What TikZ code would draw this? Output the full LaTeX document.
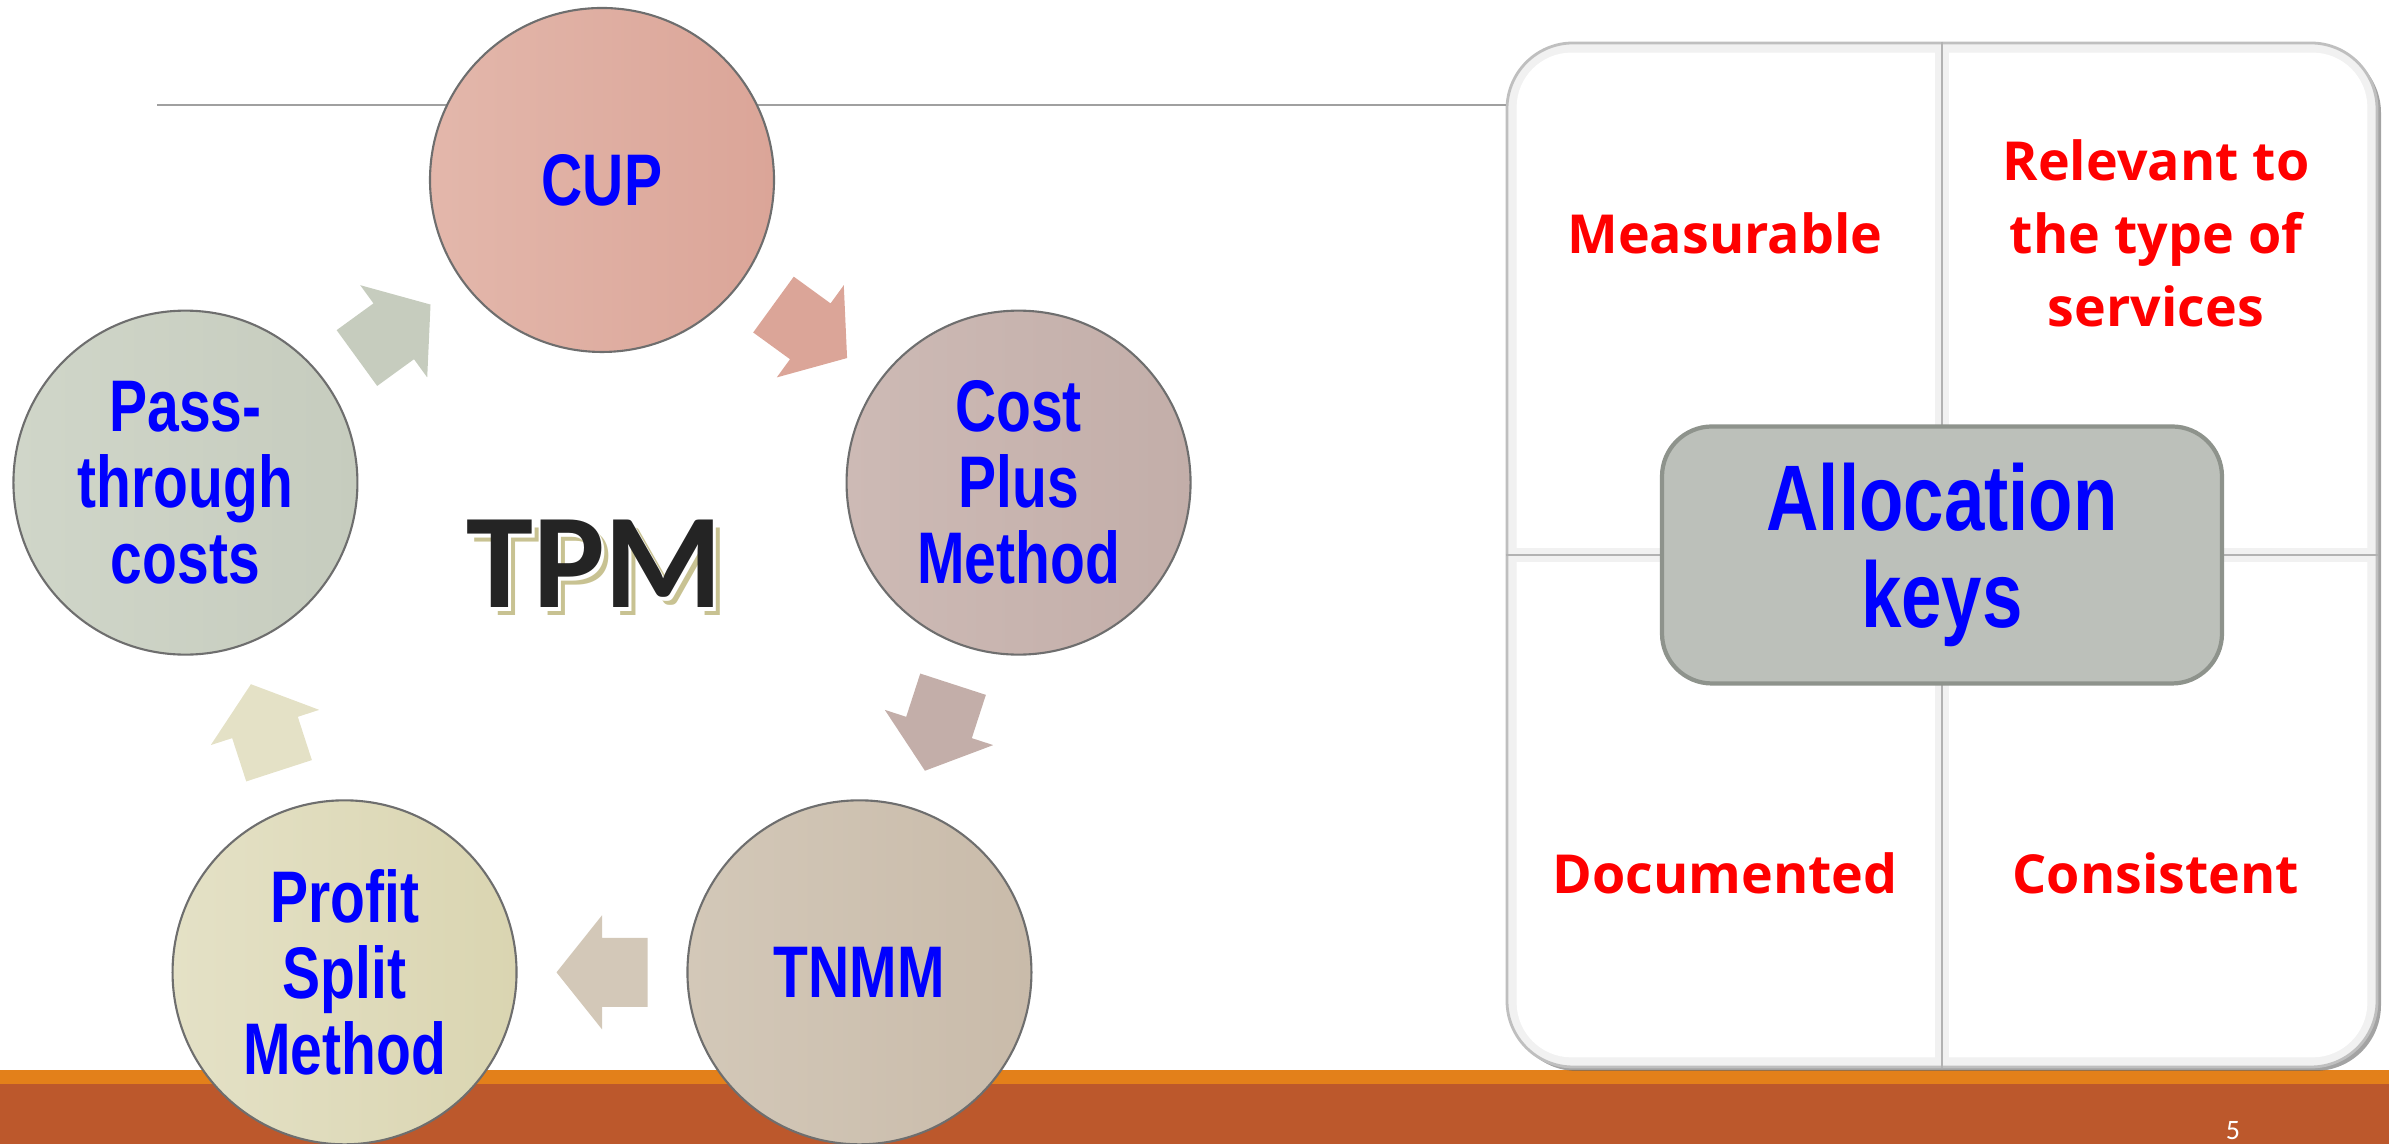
\documentclass[tikz,border=0pt]{standalone}
\usepackage{fontspec}
\usetikzlibrary{calc,positioning,shadows}
\newfontfamily\narrowfont{Liberation Sans}[FakeStretch=0.78]
\newfontfamily\critfont{Open Sans}
\newfontfamily\tpmfont{Carlito}
\definecolor{FooterBrown}{HTML}{BC582C}
\definecolor{FooterOrange}{HTML}{E3801A}
\definecolor{RuleGray}{HTML}{A0A0A0}
\definecolor{CircleRim}{HTML}{6E6E6E}
\definecolor{CupL}{HTML}{E3B7AB}
\definecolor{CupR}{HTML}{DBA598}
\definecolor{CostL}{HTML}{CDBAB5}
\definecolor{CostR}{HTML}{C3AEA9}
\definecolor{TnmmL}{HTML}{D3C8B8}
\definecolor{TnmmR}{HTML}{C9BBAA}
\definecolor{SplitL}{HTML}{E4E1C6}
\definecolor{SplitR}{HTML}{DAD5B1}
\definecolor{PassL}{HTML}{D0D6C9}
\definecolor{PassR}{HTML}{C6CCBE}
\definecolor{KeyGray}{HTML}{BCC0BA}
\definecolor{KeyRim}{HTML}{8E938C}
\definecolor{PanelEdge}{HTML}{F1F1F1}
\definecolor{TpmInk}{HTML}{242424}
\definecolor{TpmShade}{HTML}{C8C292}

\begin{document}
\begin{tikzpicture}[
    method/.style={circle,minimum size=3.44cm,inner sep=0pt,draw=CircleRim,line width=.6pt,
                   align=center,text=blue,font=\narrowfont\bfseries\fontsize{20.8}{21.6}\selectfont},
    crit/.style={align=center,text=red,font=\critfont\bfseries\fontsize{15.3}{20.8}\selectfont},
    matbox/.style={rounded corners=.66cm,minimum width=8.70cm,minimum height=10.24cm,
                   fill=PanelEdge,draw=gray!50,line width=.8pt,
                   drop shadow={shadow xshift=.04cm,shadow yshift=-.04cm,fill=black!60,opacity=.6}},
    keysbox/.style={rounded corners=.5cm,minimum width=5.60cm,minimum height=2.57cm,
                    fill=KeyGray,draw=KeyRim,line width=1.2pt,align=center,text=blue,
                    font=\narrowfont\bfseries\fontsize{26.5}{27.6}\selectfont},
    tpmtext/.style={anchor=base,font=\tpmfont\bfseries\fontsize{38.4}{40}\selectfont},
    pics/turn/.style={code={\fill[#1] (-.455,-.345) -- (0,-.345) -- (0,-.57) -- (.455,0)
                      -- (0,.57) -- (0,.345) -- (-.455,.345) -- cycle;}}]
  \useasboundingbox (0,0) rectangle (23.89,11.44);

  % footer band
  \fill[FooterBrown] (0,0) rectangle (23.89,.60);
  \fill[FooterOrange] (0,.60) rectangle (23.89,.74);
  \node[text=white,font=\tpmfont\fontsize{8}{8}\selectfont] (pagenum) at (22.33,.13) {5};

  % allocation keys matrix
  \node[matbox] (mat) at (19.42,5.89) {};
  \begin{scope}
    \clip[rounded corners=.55cm] ($(mat.south west)+(.11,.11)$) rectangle ($(mat.north east)-(.11,.11)$);
    \fill[white] (mat.north west) rectangle ($(mat.center)+(-.07,.07)$);
    \fill[white] (mat.north east) rectangle ($(mat.center)+(.07,.07)$);
    \fill[white] (mat.south west) rectangle ($(mat.center)+(-.07,-.07)$);
    \fill[white] (mat.south east) rectangle ($(mat.center)+(.07,-.07)$);
  \end{scope}
  \draw[gray!60,line width=.6pt] (mat.north) -- (mat.south);
  \draw[gray!60,line width=.6pt] (mat.west) -- (mat.east);
  \node[crit] (measurable) at ($(mat.center)+(-2.17,3.22)$) {Measurable};
  \node[crit] (relevant) at ($(mat.center)+(2.14,3.22)$) {Relevant to\\the type of\\services};
  \node[crit] (documented) at ($(mat.center)+(-2.17,-3.18)$) {Documented};
  \node[crit] (consistent) at ($(mat.center)+(2.14,-3.18)$) {Consistent};
  \node[keysbox] (keys) at (mat.center) {Allocation\\keys};

  % title rule
  \coordinate (rule) at (1.57,10.39);
  \draw[RuleGray,line width=.6pt] (rule) -- (rule -| mat.west);

  % TPM cycle
  \coordinate (hub) at (6.02,5.26);
  \node[method,left color=CupL,right color=CupR] (cup) at ($(hub)+(90:4.38)$) {CUP};
  \node[method,left color=CostL,right color=CostR] (costplus) at ($(hub)+(18:4.38)$) {Cost\\Plus\\Method};
  \node[method,left color=TnmmL,right color=TnmmR] (tnmm) at ($(hub)+(-54:4.38)$) {TNMM};
  \node[method,left color=SplitL,right color=SplitR] (split) at ($(hub)+(-126:4.38)$) {Profit\\Split\\Method};
  \node[method,left color=PassL,right color=PassR] (pass) at ($(hub)+(162:4.38)$) {Pass-\\through\\costs};

  \foreach \from/\to/\ang/\col in {cup/costplus/-36/CupR,costplus/tnmm/-108/CostR,
      tnmm/split/180/TnmmL,split/pass/108/SplitL,pass/cup/36/PassR}
    \pic[rotate=\ang] at ($(\from)!.5!(\to)$) {turn=\col};

  \node[tpmtext,text=TpmShade] (tpmshade) at (6.015,5.285) {TPM};
  \node[tpmtext,text=white] (tpmhalo) at (5.975,5.325) {TPM};
  \node[tpmtext,text=TpmInk] (tpm) at (5.945,5.36) {TPM};
\end{tikzpicture}
\end{document}
